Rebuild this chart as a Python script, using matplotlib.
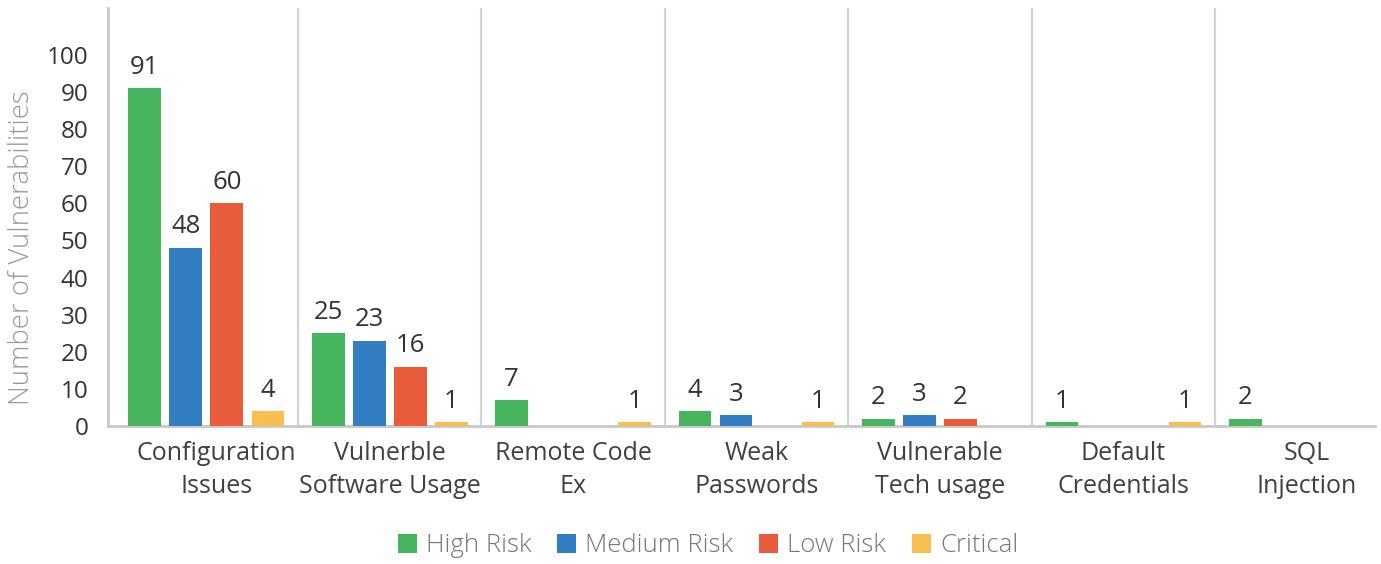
import numpy as np
import matplotlib
matplotlib.use("Agg")
from matplotlib import pyplot as plt
from matplotlib.transforms import ScaledTranslation

plt.rcParams['font.family'] = ['Open Sans', 'DejaVu Sans']

# vulnerability counts per finding type
categories = ["Configuration\nIssues", "Vulnerble\nSoftware Usage", "Remote Code\nEx",
              "Weak\nPasswords", "Vulnerable\nTech usage", "Default\nCredentials",
              "SQL\nInjection"]
high_risk = [91, 25, 7, 4, 2, 1, 2]
medium_risk = [48, 23, 0, 3, 3, 0, 0]
low_risk = [60, 16, 0, 0, 2, 0, 0]
critical = [4, 1, 1, 1, 0, 1, 0]

series = [("High Risk", high_risk, "#47B55D"),
          ("Medium Risk", medium_risk, "#337DC2"),
          ("Low Risk", low_risk, "#E85C3B"),
          ("Critical", critical, "#F8BF50")]

fig = plt.figure(figsize=(13.81, 5.64), dpi=100)
ax = fig.add_axes([108/1381, 138/564, 1267/1381, 418/564])

x = np.arange(len(categories))
step = 0.2236
width = 0.178
handles = []
for k, (name, vals, col) in enumerate(series):
    off = (k - 1.5) * step
    bars = ax.bar(x + off, vals, width, color=col, label=name, zorder=3)
    handles.append(bars)
    for xi, v in zip(x, vals):
        if v > 0:
            ax.annotate(str(v), (xi + off, v), xytext=(0, 6), textcoords="offset points",
                        ha="center", va="bottom", fontsize=18.5, color="#333333")

ax.set_xlim(-0.536, 6.372)
ax.set_ylim(0, 112.6)
ax.set_yticks(np.arange(0, 101, 10))
ax.set_xticks(x)
ax.set_xticklabels(categories, fontsize=18, color="#404040", linespacing=1.4)
ax.tick_params(axis="y", length=0, pad=14, labelsize=17.5, labelcolor="#333333")
ax.tick_params(axis="x", length=0, pad=11)

# first label is nudged right, clear of the value axis
first = ax.get_xticklabels()[0]
first.set_transform(first.get_transform() + ScaledTranslation(0.1, 0, fig.dpi_scale_trans))

# separators between categories
for s in x[:-1] + 0.5:
    ax.axvline(s, color="#d4d4d4", lw=1.6, zorder=1)

for side in ["top", "right"]:
    ax.spines[side].set_visible(False)
for side in ["left", "bottom"]:
    ax.spines[side].set_color("#c8c8c8")
    ax.spines[side].set_linewidth(2)

fig.text(22/1381, 1 - 248/564, "Number of Vulnerabilities", rotation=90, ha="center",
         va="center", fontsize=19.8, color="#9a9a9a", fontweight="light")

leg = fig.legend(handles=handles, loc="center", bbox_to_anchor=(708/1381, 18/564),
                 ncol=4, frameon=False, fontsize=18.5, handlelength=0.75, handleheight=0.75,
                 handletextpad=0.35, columnspacing=1.0)
for t in leg.get_texts():
    t.set_color("#777777")
    t.set_fontweight("light")

fig.savefig("out.png", dpi=100)
